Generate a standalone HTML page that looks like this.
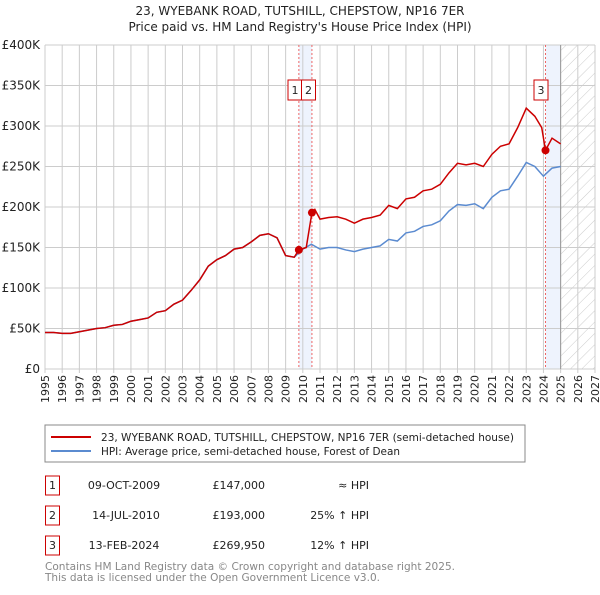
<!DOCTYPE html>
<html><head><meta charset="utf-8"><style>
body{margin:0;background:#fff;font-family:"Liberation Sans","DejaVu Sans",sans-serif;}
svg text{font-family:"DejaVu Sans","Liberation Sans",sans-serif;}
</style></head><body>
<svg id="c" width="600" height="590" viewBox="0 0 600 590" xmlns="http://www.w3.org/2000/svg">
<defs><pattern id="hatch" width="8" height="8" patternUnits="userSpaceOnUse" patternTransform="rotate(45)"><line x1="0" y1="0" x2="0" y2="8" stroke="#ccc" stroke-width="1"/></pattern></defs>
<text x="300" y="15" text-anchor="middle" font-size="12" fill="#222">23, WYEBANK ROAD, TUTSHILL, CHEPSTOW, NP16 7ER</text>
<text x="300" y="31" text-anchor="middle" font-size="12" fill="#222">Price paid vs. HM Land Registry's House Price Index (HPI)</text>
<g id="plot"></g>
<rect x="45" y="425" width="480" height="37" fill="#fff" stroke="#888"/>
<line x1="51" y1="437" x2="91" y2="437" stroke="#cc0000" stroke-width="2"/>
<text x="101" y="441" font-size="11" fill="#222" textLength="413" lengthAdjust="spacingAndGlyphs">23, WYEBANK ROAD, TUTSHILL, CHEPSTOW, NP16 7ER (semi-detached house)</text>
<line x1="51" y1="451" x2="91" y2="451" stroke="#5b8bd0" stroke-width="2"/>
<text x="101" y="455" font-size="11" fill="#222" textLength="299" lengthAdjust="spacingAndGlyphs">HPI: Average price, semi-detached house, Forest of Dean</text>
<g font-size="11" fill="#222">
<rect x="45.5" y="476" width="14" height="19" fill="none" stroke="#cc0000"/><text x="52.5" y="489" text-anchor="middle">1</text>
<text x="124" y="489" text-anchor="middle">09-OCT-2009</text><text x="265" y="489" text-anchor="end">£147,000</text><text x="369" y="489" text-anchor="end">≈ HPI</text>
<rect x="45.5" y="506" width="14" height="19" fill="none" stroke="#cc0000"/><text x="52.5" y="519" text-anchor="middle">2</text>
<text x="126" y="519" text-anchor="middle">14-JUL-2010</text><text x="265" y="519" text-anchor="end">£193,000</text><text x="369" y="519" text-anchor="end">25% ↑ HPI</text>
<rect x="45.5" y="536" width="14" height="19" fill="none" stroke="#cc0000"/><text x="52.5" y="549" text-anchor="middle">3</text>
<text x="124" y="549" text-anchor="middle">13-FEB-2024</text><text x="265" y="549" text-anchor="end">£269,950</text><text x="369" y="549" text-anchor="end">12% ↑ HPI</text>
</g>
<text x="45" y="570" font-size="11" fill="#888" textLength="410" lengthAdjust="spacingAndGlyphs">Contains HM Land Registry data © Crown copyright and database right 2025.</text>
<text x="45" y="581" font-size="11" fill="#888" textLength="335" lengthAdjust="spacingAndGlyphs">This data is licensed under the Open Government Licence v3.0.</text>
</svg>
<script>
const yearTicks=[1995,1996,1997,1998,1999,2000,2001,2002,2003,2004,2005,2006,2007,2008,2009,2010,2011,2012,2013,2014,2015,2016,2017,2018,2019,2020,2021,2022,2023,2024,2025,2026,2027];
const priceTicks=[0,50000,100000,150000,200000,250000,300000,350000,400000];
const priceTickLabels=["£0","£50K","£100K","£150K","£200K","£250K","£300K","£350K","£400K"];
const hpiYears=[1995,1995.5,1996,1996.5,1997,1997.5,1998,1998.5,1999,1999.5,2000,2000.5,2001,2001.5,2002,2002.5,2003,2003.5,2004,2004.5,2005,2005.5,2006,2006.5,2007,2007.5,2008,2008.5,2009,2009.5,2010,2010.5,2011,2011.5,2012,2012.5,2013,2013.5,2014,2014.5,2015,2015.5,2016,2016.5,2017,2017.5,2018,2018.5,2019,2019.5,2020,2020.5,2021,2021.5,2022,2022.5,2023,2023.5,2024,2024.5,2025];
const hpiValues=[45000,45000,44000,44000,46000,48000,50000,51000,54000,55000,59000,61000,63000,70000,72000,80000,85000,97000,110000,127000,135000,140000,148000,150000,157000,165000,167000,162000,140000,138000,148000,154000,148000,150000,150000,147000,145000,148000,150000,152000,160000,158000,168000,170000,176000,178000,183000,195000,203000,202000,204000,198000,212000,220000,222000,238000,255000,250000,238000,248000,250000];
const priceYears=[1995,1995.5,1996,1996.5,1997,1997.5,1998,1998.5,1999,1999.5,2000,2000.5,2001,2001.5,2002,2002.5,2003,2003.5,2004,2004.5,2005,2005.5,2006,2006.5,2007,2007.5,2008,2008.5,2009,2009.5,2009.77,2010.2,2010.53,2010.7,2011,2011.5,2012,2012.5,2013,2013.5,2014,2014.5,2015,2015.5,2016,2016.5,2017,2017.5,2018,2018.5,2019,2019.5,2020,2020.5,2021,2021.5,2022,2022.5,2023,2023.5,2023.9,2024.12,2024.5,2025];
const priceValues=[45000,45000,44000,44000,46000,48000,50000,51000,54000,55000,59000,61000,63000,70000,72000,80000,85000,97000,110000,127000,135000,140000,148000,150000,157000,165000,167000,162000,140000,138000,147000,150000,193000,197000,185000,187000,188000,185000,180000,185000,187000,190000,202000,198000,210000,212000,220000,222000,228000,242000,254000,252000,254000,250000,265000,275000,278000,298000,322000,312000,298000,269950,285000,278000];
const saleYears=[2009.77,2010.53,2024.12];
const saleValues=[147000,193000,269950];
const saleLabels=["1","2","3"];

const X0=45,X1=595,Y0=369,Y1=45;
const x=y=>X0+(y-1995)/(2027-1995)*(X1-X0);
const yv=v=>Y0-v/400000*(Y0-Y1);
const NS="http://www.w3.org/2000/svg";
const g=document.getElementById('plot');
function mk(t,a){const e=document.createElementNS(NS,t);for(const k in a)e.setAttribute(k,a[k]);g.appendChild(e);return e;}

const bg=mk('rect',{x:X0,y:Y1,width:X1-X0,height:Y0-Y1,fill:'#fff'});


const b1=mk('rect',{x:x(saleYears[0]),y:Y1,width:x(saleYears[1])-x(saleYears[0]),height:Y0-Y1,fill:'#eef3fd'});


const b2=mk('rect',{x:x(saleYears[2]),y:Y1,width:x(2025)-x(saleYears[2]),height:Y0-Y1,fill:'#eef3fd'});


const h=mk('rect',{x:x(2025),y:Y1,width:X1-x(2025),height:Y0-Y1,fill:'url(#hatch)'});



yearTicks.forEach(yr=>{
 const l=mk('line',{x1:x(yr),x2:x(yr),y1:Y1,y2:Y0+4,stroke:'#ccc','stroke-width':1});
 
 
 const t=mk('text',{x:0,y:0,'font-size':11,fill:'#222','text-anchor':'end',transform:`translate(${x(yr)+4},${Y0+6}) rotate(-90)`});
 t.textContent=yr;
 
 
});
priceTicks.forEach((v,i)=>{
 const l=mk('line',{x1:X0,x2:X1,y1:yv(v),y2:yv(v),stroke:'#ccc','stroke-width':1});
 
 
 const t=mk('text',{x:40,y:yv(v)+4,'font-size':12,fill:'#222','text-anchor':'end'});
 t.textContent=priceTickLabels[i];
 
 
});
const vl=mk('line',{x1:x(2025),x2:x(2025),y1:Y1,y2:Y0,stroke:'#999','stroke-width':1});


saleYears.forEach((yr,i)=>{
 const l=mk('line',{x1:x(yr),x2:x(yr),y1:Y1,y2:Y0,stroke:'#e66','stroke-width':1,'stroke-dasharray':'2,2'});
 
 
});
const hp=mk('polyline',{points:hpiYears.map((yr,i)=>x(yr)+','+yv(hpiValues[i])).join(' '),fill:'none',stroke:'#5b8bd0','stroke-width':1.5});


const pp=mk('polyline',{points:priceYears.map((yr,i)=>x(yr)+','+yv(priceValues[i])).join(' '),fill:'none',stroke:'#cc0000','stroke-width':1.5});


saleYears.forEach((yr,i)=>{
 const c=mk('circle',{cx:x(yr),cy:yv(saleValues[i]),r:4,fill:'#cc0000'});
 
 
});
const boxX=[288,301.5,534];
saleLabels.forEach((s,i)=>{
 const r=mk('rect',{x:boxX[i],y:80,width:14,height:20,fill:'#fff',stroke:'#cc0000'});
 
 
 const t=mk('text',{x:boxX[i]+7,y:94,'font-size':11,fill:'#222','text-anchor':'middle'});
 t.textContent=s;
 
 
});
</script>
</body></html>
